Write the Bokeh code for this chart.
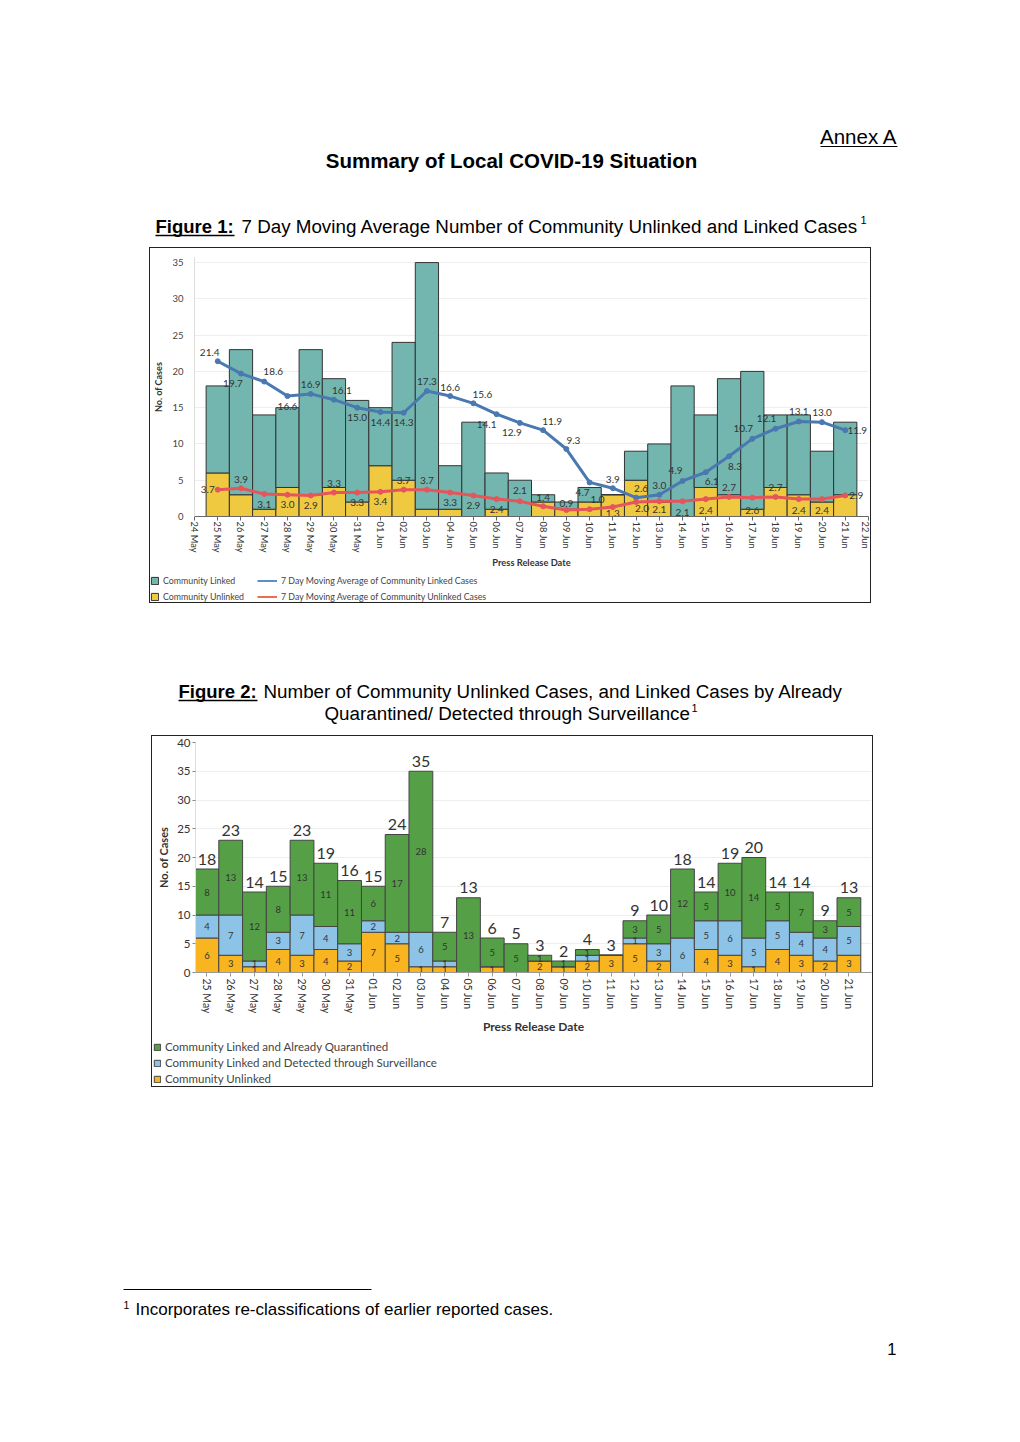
from bokeh.plotting import figure
from bokeh.models import ColumnDataSource, Range1d, FixedTicker, Legend, LegendItem, Spacer
from bokeh.layouts import column, row
from bokeh.core.properties import value
from bokeh.embed import file_html
from bokeh.resources import INLINE

# ---------------- data ----------------
dates = ["25 May", "26 May", "27 May", "28 May", "29 May", "30 May", "31 May",
         "01 Jun", "02 Jun", "03 Jun", "04 Jun", "05 Jun", "06 Jun", "07 Jun",
         "08 Jun", "09 Jun", "10 Jun", "11 Jun", "12 Jun", "13 Jun", "14 Jun",
         "15 Jun", "16 Jun", "17 Jun", "18 Jun", "19 Jun", "20 Jun", "21 Jun"]
fig1_axis_dates = ["24 May"] + dates + ["22 Jun"]
unlinked = [6, 3, 1, 4, 3, 4, 2, 7, 5, 1, 1, 0, 1, 0, 2, 1, 2, 3, 5, 2, 0, 4, 3, 1, 4, 3, 2, 3]
linked_surveillance = [4, 7, 1, 3, 7, 4, 3, 2, 2, 6, 1, 0, 0, 0, 0, 0, 1, 0, 1, 3, 6, 5, 6, 5, 5, 4, 4, 5]
linked_quarantined = [8, 13, 12, 8, 13, 11, 11, 6, 17, 28, 5, 13, 5, 5, 1, 1, 1, 0, 3, 5, 12, 5, 10, 14, 5, 7, 3, 5]
ma_linked = [21.4, 19.7, 18.6, 16.6, 16.9, 16.1, 15.0, 14.4, 14.3, 17.3, 16.6, 15.6, 14.1, 12.9,
             11.9, 9.3, 4.7, 3.9, 2.6, 3.0, 4.9, 6.1, 8.3, 10.7, 12.1, 13.1, 13.0, 11.9]
ma_unlinked = [3.7, 3.9, 3.1, 3.0, 2.9, 3.3, 3.3, 3.4, 3.7, 3.7, 3.3, 2.9, 2.4, 2.1,
               1.4, 0.9, 1.0, 1.3, 2.0, 2.1, 2.1, 2.4, 2.7, 2.6, 2.7, 2.4, 2.4, 2.9]

# ---------------- styles ----------------
DOC_FONT = "Liberation Sans"
CH_FONT = "Lato"
TEAL, YELLOW = "#72B6AF", "#EFC940"
BLUE, RED = "#4A78B0", "#E5565B"
GREEN, LBLUE, ORANGE = "#55A046", "#8DC3E6", "#F8B520"
BOX_STYLE = {"outline": "1px solid #222"}

# label offsets (screen px) for the moving-average labels
blue_dx = [-8, -8, 9, 0, 0, 8, 0, 0, 0, 0, 0, 9, -10, -8, 9, 7, -7, 0, 5, 0, -7, 6, 6, -9, -9, 0, 0, 12]
blue_dy = [-9, 10, -10, 10, -9, -9, 10, 10, 10, -9, -9, -9, 10, 10, -9, -9, 10, -9, -9, -9, -10, 9, 10, -10, -10, -10, -10, 0]
red_dx = [-10, 0, 0, 0, 0, 0, 0, 0, 0, 0, 0, 0, 0, 0, 0, 0, 8, 0, 6, 0, 0, 0, 0, 0, 0, 0, 0, 11]
red_dy = [0, -9, 10, 10, 10, -9, 10, 10, -9, -9, 10, 10, 10, -11, -9, -6, -10, 6, 7, 8, 11, 11, -9, 13, -9, 11, 11, 0]


def page_slice(top, bottom):
    p = figure(width=1020, height=bottom - top, x_range=Range1d(0, 1020), y_range=Range1d(bottom, top),
               toolbar_location=None, output_backend="svg", min_border=0,
               x_axis_location=None, y_axis_location=None)
    p.xgrid.visible = False
    p.ygrid.visible = False
    p.outline_line_color = None
    p.background_fill_color = None
    p.border_fill_color = None
    return p


def legend_strip(width, height):
    p = figure(width=width, height=height, x_range=Range1d(0, 1), y_range=Range1d(0, 1),
               toolbar_location=None, output_backend="svg", min_border=0,
               x_axis_location=None, y_axis_location=None)
    p.xgrid.visible = False
    p.ygrid.visible = False
    p.outline_line_color = None
    return p


def make_legend(items, loc, font_size, glyph_w, glyph_h, label_h, spacing, padding):
    return Legend(items=items, location=loc,
                  label_text_font=CH_FONT, label_text_font_size=font_size, label_text_color="#444444",
                  glyph_width=glyph_w, glyph_height=glyph_h, label_height=label_h, label_standoff=4,
                  spacing=spacing, padding=padding, margin=0, border_line_color=None,
                  background_fill_alpha=0)


def doc_text(p, x, y, txt, size="18px", style="normal", align="left"):
    p.text(x=[x], y=[y], text=[txt], text_font=value(DOC_FONT), text_font_size=size,
           text_font_style=style, text_align=align, text_baseline="middle", text_color="#000000")


# ---------------- header ----------------
head = page_slice(0, 248)
doc_text(head, 897, 136, "Annex A", size="20.5px", align="right")
head.segment(x0=[820], y0=[146], x1=[897], y1=[146], line_color="#000", line_width=1)
doc_text(head, 511, 160, "Summary of Local COVID-19 Situation", size="20.5px", style="bold", align="center")
doc_text(head, 155, 226, "Figure 1:", size="18.5px", style="bold")
head.segment(x0=[155], y0=[235], x1=[234], y1=[235], line_color="#000", line_width=1.5)
doc_text(head, 241, 226, "7 Day Moving Average Number of Community Unlinked and Linked Cases", size="18.8px")
doc_text(head, 860, 219, "1", size="11px")

# ---------------- figure 1 ----------------
n = len(dates)
x1 = list(range(1, n + 1))
linked_total = [a + b for a, b in zip(linked_surveillance, linked_quarantined)]
src1 = ColumnDataSource(dict(x=x1, unl=unlinked, lnk=linked_total))

p1 = figure(width=720, height=324, x_range=Range1d(0, 29), y_range=Range1d(0, 35.7),
            toolbar_location=None, output_backend="svg",
            min_border_left=37, min_border_right=2, min_border_top=9, min_border_bottom=56)
p1.outline_line_color = None
p1.vbar_stack(["unl", "lnk"], x="x", width=1.0, source=src1,
              fill_color=[YELLOW, TEAL], line_color="#333333", line_width=1)
p1.line(x1, ma_linked, line_color=BLUE, line_width=3)
p1.scatter(x1, ma_linked, size=5, fill_color=BLUE, line_color=BLUE)
p1.line(x1, ma_unlinked, line_color=RED, line_width=3)
p1.scatter(x1, ma_unlinked, size=5, fill_color=RED, line_color=RED)

blab = ColumnDataSource(dict(x=x1, y=ma_linked, t=[f"{v:.1f}" for v in ma_linked], dx=blue_dx, dy=blue_dy))
rlab = ColumnDataSource(dict(x=x1, y=ma_unlinked, t=[f"{v:.1f}" for v in ma_unlinked], dx=red_dx, dy=red_dy))
for s in (blab, rlab):
    p1.text(x="x", y="y", text="t", x_offset="dx", y_offset="dy", source=s,
            text_font=value(CH_FONT), text_font_size="10px", text_color="#333333",
            text_align="center", text_baseline="middle")

p1.xaxis.ticker = FixedTicker(ticks=list(range(30)))
p1.xaxis.major_label_overrides = {i: lab for i, lab in enumerate(fig1_axis_dates)}
p1.xaxis.major_label_orientation = "vertical"
p1.xaxis.major_label_text_font = CH_FONT
p1.xaxis.major_label_text_font_size = "9.3px"
p1.xaxis.major_label_text_color = "#333333"
p1.xaxis.major_label_standoff = 1
p1.xaxis.major_tick_out = 4
p1.xaxis.major_tick_in = 0
p1.xaxis.minor_tick_line_color = None
p1.xaxis.axis_line_color = "#666666"
p1.xaxis.major_tick_line_color = "#666666"
p1.xaxis.axis_label = "Press Release Date"
p1.xaxis.axis_label_text_font = CH_FONT
p1.xaxis.axis_label_text_font_size = "9.3px"
p1.xaxis.axis_label_text_font_style = "bold"
p1.xaxis.axis_label_text_color = "#333333"
p1.xaxis.axis_label_standoff = 2

p1.yaxis.ticker = FixedTicker(ticks=list(range(0, 36, 5)))
p1.yaxis.major_tick_line_color = None
p1.yaxis.minor_tick_line_color = None
p1.yaxis.axis_line_color = "#dddddd"
p1.yaxis.major_label_text_font = CH_FONT
p1.yaxis.major_label_text_font_size = "9.5px"
p1.yaxis.major_label_text_color = "#444444"
p1.yaxis.major_label_standoff = 5
p1.yaxis.axis_label = "No. of Cases"
p1.yaxis.axis_label_text_font = CH_FONT
p1.yaxis.axis_label_text_font_size = "9px"
p1.yaxis.axis_label_text_font_style = "bold"
p1.yaxis.axis_label_text_color = "#333333"
p1.yaxis.axis_label_standoff = 5
p1.xgrid.visible = False
p1.ygrid.grid_line_color = "#eeeeee"

# legend strip for figure 1 (keys drawn with the same styles as the chart's renderers)
lg1 = legend_strip(720, 30)
k_lnk = lg1.vbar(x=[5], top=[5], width=1, fill_color=TEAL, line_color="#333333")
k_unl = lg1.vbar(x=[5], top=[5], width=1, fill_color=YELLOW, line_color="#333333")
k_blue = lg1.line(x=[5, 6], y=[5, 5], line_color="#5B8FC9", line_width=2)
k_red = lg1.line(x=[5, 6], y=[5, 5], line_color="#E8704F", line_width=2)
lg1.add_layout(make_legend([LegendItem(label="Community Linked", renderers=[k_lnk]),
                            LegendItem(label="Community Unlinked", renderers=[k_unl])],
                           (0, 0), "8.8px", 9, 9, 10, 5, 2))
lg1.add_layout(make_legend([LegendItem(label="7 Day Moving Average of Community Linked Cases", renderers=[k_blue]),
                            LegendItem(label="7 Day Moving Average of Community Unlinked Cases", renderers=[k_red])],
                           (107, 0), "8.8px", 20, 9, 10, 5, 2))

# ---------------- middle text ----------------
mid = page_slice(603, 737)
doc_text(mid, 178, 692, "Figure 2:", size="18.5px", style="bold")
mid.segment(x0=[178], y0=[701], x1=[257], y1=[701], line_color="#000", line_width=1.5)
doc_text(mid, 263, 692, "Number of Community Unlinked Cases, and Linked Cases by Already", size="18.8px")
doc_text(mid, 324, 714, "Quarantined/ Detected through Surveillance", size="18.8px")
doc_text(mid, 691, 708, "1", size="11px")

# ---------------- figure 2 ----------------
x2 = list(range(n))
src2 = ColumnDataSource(dict(x=x2, unl=unlinked, surv=linked_surveillance, quar=linked_quarantined))
p2 = figure(width=720, height=303, x_range=Range1d(-0.48, 27.95), y_range=Range1d(0, 40),
            toolbar_location=None, output_backend="svg",
            min_border_left=43, min_border_right=1, min_border_top=6, min_border_bottom=67)
p2.outline_line_color = None
p2.vbar_stack(["unl", "surv", "quar"], x="x", width=1.0, source=src2,
              fill_color=[ORANGE, LBLUE, GREEN], line_color="#444444", line_width=1)

sx, sy, st = [], [], []
for i in range(n):
    base = 0
    for v in (unlinked[i], linked_surveillance[i], linked_quarantined[i]):
        if v > 0:
            sx.append(i)
            sy.append(base + v / 2)
            st.append(str(v))
        base += v
p2.text(x=sx, y=sy, text=st, text_font=value(CH_FONT), text_font_size="9.5px", text_color="#333333",
        text_align="center", text_baseline="middle")
totals = [a + b + c for a, b, c in zip(unlinked, linked_surveillance, linked_quarantined)]
p2.text(x=x2, y=totals, text=[str(t) for t in totals], y_offset=-10, text_font=value(CH_FONT),
        text_font_size="16px", text_color="#333333", text_align="center", text_baseline="middle")

p2.xaxis.ticker = FixedTicker(ticks=x2)
p2.xaxis.major_label_overrides = {i: lab for i, lab in enumerate(dates)}
p2.xaxis.major_label_orientation = "vertical"
p2.xaxis.major_label_text_font = CH_FONT
p2.xaxis.major_label_text_font_size = "10.5px"
p2.xaxis.major_label_text_color = "#333333"
p2.xaxis.major_label_standoff = 2
p2.xaxis.major_tick_out = 4
p2.xaxis.major_tick_in = 0
p2.xaxis.minor_tick_line_color = None
p2.xaxis.axis_line_color = "#999999"
p2.xaxis.major_tick_line_color = "#999999"
p2.xaxis.axis_label = "Press Release Date"
p2.xaxis.axis_label_text_font = CH_FONT
p2.xaxis.axis_label_text_font_size = "12px"
p2.xaxis.axis_label_text_font_style = "bold"
p2.xaxis.axis_label_text_color = "#333333"
p2.xaxis.axis_label_standoff = 3

p2.yaxis.ticker = FixedTicker(ticks=list(range(0, 41, 5)))
p2.yaxis.major_tick_out = 3
p2.yaxis.major_tick_in = 0
p2.yaxis.major_tick_line_color = "#888888"
p2.yaxis.minor_tick_line_color = None
p2.yaxis.axis_line_color = "#dddddd"
p2.yaxis.major_label_text_font = CH_FONT
p2.yaxis.major_label_text_font_size = "11.5px"
p2.yaxis.major_label_text_color = "#333333"
p2.yaxis.major_label_standoff = 2
p2.yaxis.axis_label = "No. of Cases"
p2.yaxis.axis_label_text_font = CH_FONT
p2.yaxis.axis_label_text_font_size = "11px"
p2.yaxis.axis_label_text_font_style = "bold"
p2.yaxis.axis_label_text_color = "#333333"
p2.yaxis.axis_label_standoff = 4
p2.xgrid.visible = False
p2.ygrid.grid_line_color = "#eeeeee"

lg2 = legend_strip(720, 47)
k_quar = lg2.vbar(x=[5], top=[5], width=1, fill_color=GREEN, line_color="#444444")
k_surv = lg2.vbar(x=[5], top=[5], width=1, fill_color=LBLUE, line_color="#444444")
k_unl2 = lg2.vbar(x=[5], top=[5], width=1, fill_color=ORANGE, line_color="#444444")
lg2.add_layout(make_legend([LegendItem(label="Community Linked and Already Quarantined", renderers=[k_quar]),
                            LegendItem(label="Community Linked and Detected through Surveillance", renderers=[k_surv]),
                            LegendItem(label="Community Unlinked", renderers=[k_unl2])],
                           (1, 1), "11.5px", 8, 8, 12, 3, 2))

# ---------------- footer ----------------
foot = page_slice(1087, 1442)
foot.segment(x0=[123], y0=[1290], x1=[371], y1=[1290], line_color="#000", line_width=1)
doc_text(foot, 123, 1305, "1", size="10.5px")
doc_text(foot, 135, 1310, "Incorporates re-classifications of earlier reported cases.", size="17px")
doc_text(foot, 896, 1349, "1", size="16.5px", align="right")

layout = column(head,
                row(Spacer(width=150, height=354), column(p1, row(lg1), styles=BOX_STYLE)),
                mid,
                row(Spacer(width=152, height=350), column(p2, row(lg2), styles=BOX_STYLE)),
                foot)

open("out.html", "w").write(file_html(layout, INLINE))
